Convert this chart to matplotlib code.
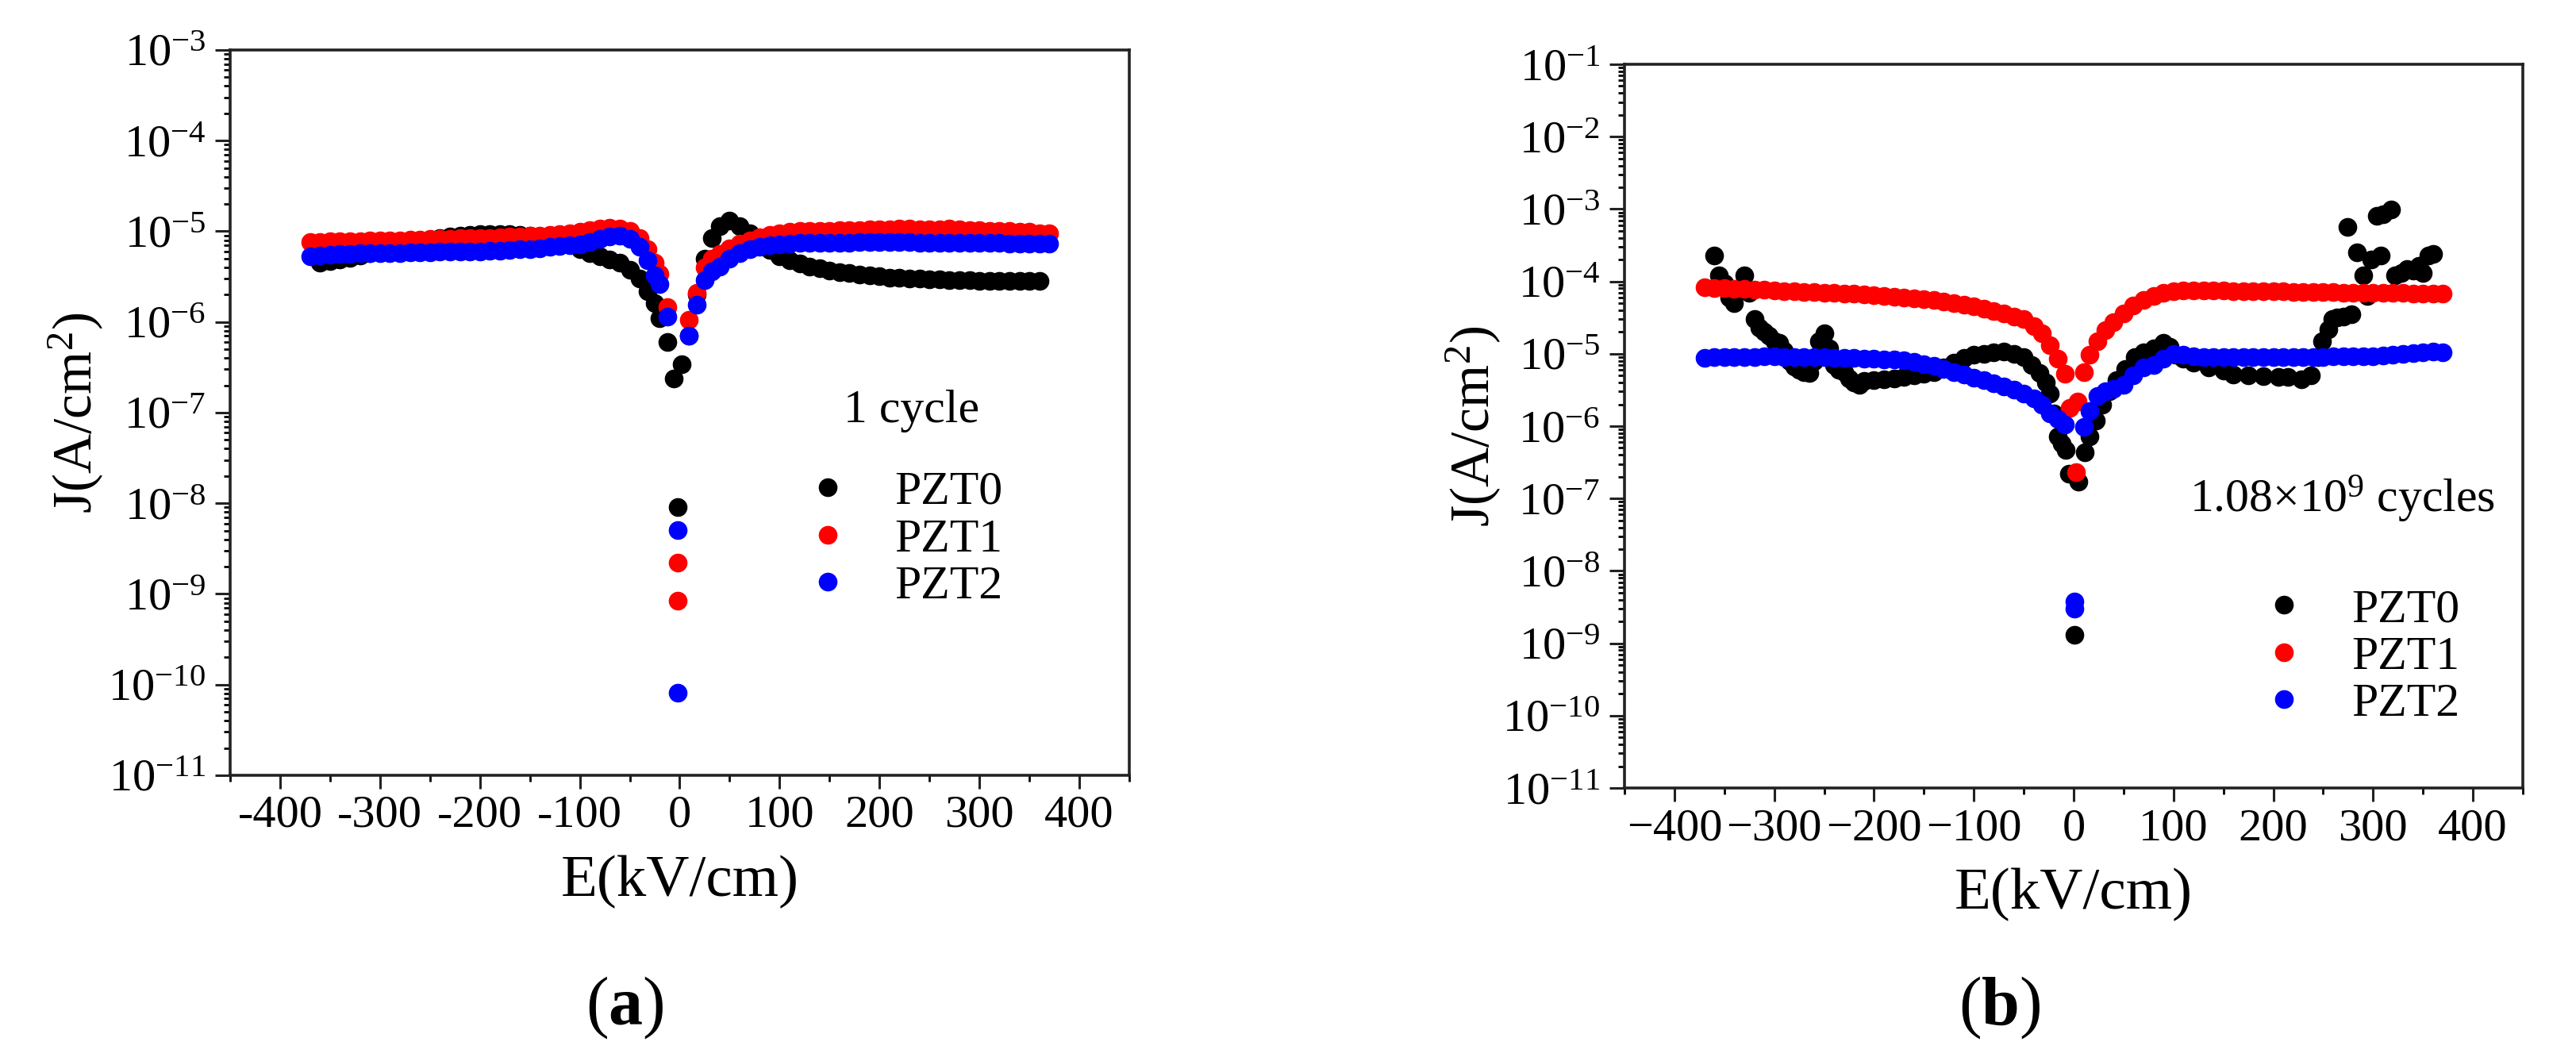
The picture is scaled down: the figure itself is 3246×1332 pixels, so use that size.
import numpy as np
import matplotlib
matplotlib.use("Agg")
import matplotlib.pyplot as plt
from matplotlib.ticker import LogLocator, NullFormatter, MultipleLocator

plt.rcParams['font.family'] = 'Liberation Serif'
plt.rcParams['mathtext.fontset'] = 'custom'
plt.rcParams['mathtext.rm'] = 'Liberation Serif'
plt.rcParams['mathtext.it'] = 'Liberation Serif:italic'
plt.rcParams['mathtext.bf'] = 'Liberation Serif:bold'

nan = np.nan

# ---------------- panel (a): 1 cycle ----------------
E_a = [-370, -360, -350, -340, -330, -320, -310, -300, -290, -280,
       -270, -260, -250, -240, -230, -220, -210, -200, -190, -180,
       -170, -160, -150, -140, -130, -120, -110, -100, -90, -80,
       -70, -60, -50, -40, -32, -25, -20, -12, -6, 2,
       9, 17, 25, 32, 40, 50, 60, 70, 80, 90,
       100, 110, 120, 130, 140, 150, 160, 170, 180, 190,
       200, 210, 220, 230, 240, 250, 260, 270, 280, 290,
       300, 310, 320, 330, 340, 350, 360, 370]

pzt0_a = [nan, 4.5e-6, 4.7e-6, 4.9e-6, 5.1e-6, 5.4e-6, 5.7e-6, 6.0e-6, 6.4e-6, 6.8e-6,
          7.2e-6, 7.6e-6, 8.0e-6, 8.4e-6, 8.7e-6, 9.0e-6, 9.2e-6, 9.3e-6, 9.4e-6, 9.4e-6,
          9.3e-6, 9.2e-6, 9.0e-6, 8.7e-6, 8.3e-6, 7.8e-6, 7.1e-6, 6.3e-6, 5.8e-6, 5.3e-6,
          4.9e-6, 4.5e-6, 3.8e-6, 3.0e-6, 2.2e-6, 1.6e-6, 1.1e-6, 6.0e-7, 2.4e-7, 3.4e-7,
          7.0e-7, 2.0e-6, 5.0e-6, 8.5e-6, 1.15e-5, 1.3e-5, 1.15e-5, 9.5e-6, 7.8e-6, 6.2e-6,
          5.3e-6, 4.8e-6, 4.4e-6, 4.1e-6, 3.9e-6, 3.7e-6, 3.55e-6, 3.45e-6, 3.35e-6, 3.25e-6,
          3.2e-6, 3.1e-6, 3.05e-6, 3.0e-6, 3.0e-6, 2.95e-6, 2.95e-6, 2.9e-6, 2.9e-6, 2.9e-6,
          2.85e-6, 2.85e-6, 2.85e-6, 2.85e-6, 2.85e-6, 2.85e-6, 2.85e-6, nan]

pzt1_a = [7.6e-6, 7.6e-6, 7.7e-6, 7.7e-6, 7.8e-6, 7.8e-6, 7.9e-6, 7.9e-6, 8.0e-6, 8.0e-6,
          8.1e-6, 8.1e-6, 8.2e-6, 8.3e-6, 8.3e-6, 8.4e-6, 8.4e-6, 8.5e-6, 8.5e-6, 8.6e-6,
          8.7e-6, 8.8e-6, 8.9e-6, 9.0e-6, 9.2e-6, 9.4e-6, 9.6e-6, 9.9e-6, 1.03e-5, 1.07e-5,
          1.1e-5, 1.08e-5, 1.0e-5, 8.5e-6, 6.3e-6, 4.5e-6, 3.4e-6, 1.45e-6, nan, nan,
          1.05e-6, 2.1e-6, 4.0e-6, 5.0e-6, 5.6e-6, 6.5e-6, 7.3e-6, 8.0e-6, 8.6e-6, 9.2e-6,
          9.6e-6, 9.9e-6, 1.0e-5, 1.0e-5, 1.02e-5, 1.02e-5, 1.03e-5, 1.03e-5, 1.04e-5, 1.05e-5,
          1.06e-5, 1.06e-5, 1.07e-5, 1.07e-5, 1.06e-5, 1.05e-5, 1.06e-5, 1.07e-5, 1.06e-5, 1.04e-5,
          1.03e-5, 1.02e-5, 1.01e-5, 1.0e-5, 9.9e-6, 9.8e-6, 9.6e-6, 9.5e-6]

pzt2_a = [5.3e-6, 5.4e-6, 5.5e-6, 5.6e-6, 5.6e-6, 5.7e-6, 5.7e-6, 5.8e-6, 5.8e-6, 5.8e-6,
          5.9e-6, 5.9e-6, 5.9e-6, 6.0e-6, 6.0e-6, 6.0e-6, 6.0e-6, 6.0e-6, 6.1e-6, 6.1e-6,
          6.2e-6, 6.3e-6, 6.4e-6, 6.5e-6, 6.7e-6, 6.9e-6, 7.0e-6, 7.2e-6, 7.6e-6, 8.2e-6,
          8.8e-6, 9.0e-6, 8.3e-6, 6.8e-6, 4.8e-6, 3.3e-6, 2.6e-6, 1.15e-6, nan, nan,
          7.0e-7, 1.55e-6, 2.9e-6, 3.6e-6, 4.1e-6, 5.0e-6, 5.8e-6, 6.3e-6, 6.7e-6, 7.0e-6,
          7.2e-6, 7.3e-6, 7.4e-6, 7.4e-6, 7.5e-6, 7.5e-6, 7.5e-6, 7.5e-6, 7.6e-6, 7.6e-6,
          7.6e-6, 7.6e-6, 7.6e-6, 7.6e-6, 7.5e-6, 7.5e-6, 7.5e-6, 7.5e-6, 7.5e-6, 7.4e-6,
          7.4e-6, 7.4e-6, 7.4e-6, 7.3e-6, 7.3e-6, 7.3e-6, 7.3e-6, 7.3e-6]

# isolated points near E = 0
out0_a_E, out0_a_J = [-2], [9.1e-9]
out1_a_E, out1_a_J = [-2, -2], [2.2e-9, 8.5e-10]
out2_a_E, out2_a_J = [-2, -2], [5.1e-9, 8.1e-11]

# ---------------- panel (b): 1.08e9 cycles ----------------
E_b = [-370, -360, -350, -340, -330, -320, -310, -300, -290, -280,
       -270, -260, -250, -240, -230, -220, -210, -200, -190, -180,
       -170, -160, -150, -140, -130, -120, -110, -100, -90, -80,
       -70, -60, -50, -40, -32, -24, -16, -9, -4, 4,
       10, 16, 24, 32, 40, 50, 60, 70, 80, 90,
       100, 110, 120, 130, 140, 150, 160, 170, 180, 190,
       200, 210, 220, 230, 240, 250, 260, 270, 280, 290,
       300, 310, 320, 330, 340, 350, 360, 370]

pzt1_b = [8.2e-5, 8.1e-5, 8.0e-5, 7.9e-5, 7.8e-5, 7.7e-5, 7.6e-5, 7.5e-5, 7.4e-5, 7.3e-5,
          7.2e-5, 7.1e-5, 7.0e-5, 6.9e-5, 6.8e-5, 6.7e-5, 6.55e-5, 6.4e-5, 6.3e-5, 6.15e-5,
          6.0e-5, 5.85e-5, 5.7e-5, 5.55e-5, 5.3e-5, 5.0e-5, 4.75e-5, 4.5e-5, 4.2e-5, 3.9e-5,
          3.6e-5, 3.3e-5, 3.0e-5, 2.4e-5, 1.9e-5, 1.3e-5, 8.5e-6, 5.3e-6, 1.8e-6, 2.2e-6,
          5.6e-6, 9.8e-6, 1.5e-5, 2.1e-5, 2.7e-5, 3.6e-5, 4.6e-5, 5.6e-5, 6.3e-5, 6.9e-5,
          7.3e-5, 7.5e-5, 7.5e-5, 7.5e-5, 7.5e-5, 7.5e-5, 7.4e-5, 7.4e-5, 7.4e-5, 7.3e-5,
          7.3e-5, 7.3e-5, 7.2e-5, 7.2e-5, 7.2e-5, 7.1e-5, 7.1e-5, 7.0e-5, 7.0e-5, 7.0e-5,
          6.9e-5, 6.9e-5, 6.9e-5, 6.9e-5, 6.8e-5, 6.8e-5, 6.8e-5, 6.8e-5]

pzt2_b = [8.8e-6, 8.9e-6, 9.0e-6, 9.0e-6, 9.1e-6, 9.1e-6, 9.2e-6, 9.2e-6, 9.1e-6, 9.0e-6,
          9.0e-6, 8.9e-6, 8.9e-6, 8.8e-6, 8.8e-6, 8.7e-6, 8.6e-6, 8.5e-6, 8.4e-6, 8.3e-6,
          8.1e-6, 7.7e-6, 7.2e-6, 6.8e-6, 6.2e-6, 5.6e-6, 5.1e-6, 4.7e-6, 4.3e-6, 3.9e-6,
          3.5e-6, 3.2e-6, 2.8e-6, 2.4e-6, 2.0e-6, 1.5e-6, 1.25e-6, 1.05e-6, nan, nan,
          9.8e-7, 1.6e-6, 2.6e-6, 3.0e-6, 3.3e-6, 3.7e-6, 5.0e-6, 6.4e-6, 7.0e-6, 8.5e-6,
          1.0e-5, 9.6e-6, 9.2e-6, 9.0e-6, 9.0e-6, 9.0e-6, 9.0e-6, 9.0e-6, 9.0e-6, 9.0e-6,
          9.0e-6, 9.0e-6, 9.1e-6, 9.1e-6, 9.1e-6, 9.1e-6, 9.2e-6, 9.2e-6, 9.2e-6, 9.3e-6,
          9.3e-6, 9.5e-6, 9.7e-6, 9.9e-6, 1.02e-5, 1.05e-5, 1.07e-5, 1.06e-5]

E0_b = [-360, -355, -350, -345, -340, -335, -330, -325, -320, -315,
        -310, -305, -300, -295, -290, -285, -280, -275, -270, -265,
        -260, -255, -250, -245, -240, -235, -230, -225, -220, -215,
        -210, -200, -190, -180, -170, -160, -150, -140, -130, -120,
        -110, -100, -90, -80, -70, -60, -50, -42, -34, -28,
        -24, -20, -16, -12, -8, -5, 5, 11, 16, 22,
        29, 36, 43, 52, 61, 70, 80, 90, 96, 102,
        110, 120, 135, 150, 160, 175, 190, 205, 215, 228,
        238, 245, 249, 255, 259, 264, 270, 274, 278, 284,
        290, 294, 298, 304, 308, 310, 318, 322, 328, 334,
        340, 346, 350, 355, 360]
pzt0_b = [2.3e-4, 1.2e-4, 9.5e-5, 6.0e-5, 5.0e-5, 8.0e-5, 1.2e-4, 7.0e-5, 3.0e-5, 2.3e-5,
          2.0e-5, 1.8e-5, 1.5e-5, 1.4e-5, 1.1e-5, 8.0e-6, 6.6e-6, 6.0e-6, 5.6e-6, 5.4e-6,
          8.0e-6, 1.5e-5, 1.9e-5, 1.2e-5, 7.0e-6, 6.0e-6, 5.5e-6, 4.5e-6, 4.0e-6, 3.7e-6,
          4.2e-6, 4.3e-6, 4.4e-6, 4.6e-6, 4.8e-6, 5.0e-6, 5.3e-6, 5.6e-6, 6.5e-6, 7.5e-6,
          8.8e-6, 9.6e-6, 1.0e-5, 1.05e-5, 1.07e-5, 1.0e-5, 8.9e-6, 7.0e-6, 5.4e-6, 4.0e-6,
          2.8e-6, 1.5e-6, 7.2e-7, 5.8e-7, 4.7e-7, 2.2e-7, 1.7e-7, 4.4e-7, 7.2e-7, 1.2e-6,
          2.0e-6, 3.0e-6, 4.3e-6, 6.2e-6, 8.9e-6, 1.05e-5, 1.2e-5, 1.4e-5, 1.25e-5, 9.8e-6,
          8.5e-6, 7.5e-6, 6.4e-6, 5.8e-6, 5.1e-6, 5.0e-6, 4.9e-6, 4.8e-6, 4.8e-6, 4.4e-6,
          5.0e-6, 9.0e-6, 1.5e-5, 2.2e-5, 3.0e-5, 3.2e-5, 3.3e-5, 5.6e-4, 3.5e-5, 2.5e-4,
          1.2e-4, 6.3e-5, 2.0e-4, 8.0e-4, 2.3e-4, 8.5e-4, 9.8e-4, 1.2e-4, 1.3e-4, 1.5e-4,
          1.4e-4, 1.65e-4, 1.3e-4, 2.3e-4, 2.4e-4]

out0_b_E, out0_b_J = [1], [1.3e-9]
out1_b_E, out1_b_J = [2], [2.3e-7]
out2_b_E, out2_b_J = [1, 1], [3.8e-9, 3.0e-9]

xticks = [-400, -300, -200, -100, 0, 100, 200, 300, 400]
xlabels_a = ['-400', '-300', '-200', '-100', '0', '100', '200', '300', '400']
xlabels_b = ['\u2212400', '\u2212300', '\u2212200', '\u2212100', '0', '100', '200', '300', '400']

colors = ['black', 'red', 'blue']
names = ['PZT0', 'PZT1', 'PZT2']

fig = plt.figure(figsize=(32.46, 13.32), dpi=100)
ax_a = fig.add_axes([0.08934, 0.26652, 0.34904, 0.68619])
ax_b = fig.add_axes([0.63062, 0.25450, 0.34874, 0.68468])

ms = 17
tick_fs = 42


def style_axis(ax, ymin, ymax, xlabels):
    ax.set_yscale('log')
    ax.set_xlim(-450, 450)
    ax.set_ylim(ymin, ymax)
    ax.set_xticks(xticks, xlabels)
    ax.xaxis.set_minor_locator(MultipleLocator(50))
    ax.yaxis.set_major_locator(LogLocator(base=10, numticks=20))
    ax.yaxis.set_minor_locator(LogLocator(base=10, subs=np.arange(2, 10), numticks=20))
    ax.yaxis.set_minor_formatter(NullFormatter())
    ax.tick_params(axis='both', which='major', direction='out', labelsize=tick_fs,
                   width=2.2, color='#222222')
    ax.tick_params(axis='y', which='major', length=14, pad=8)
    ax.tick_params(axis='x', which='major', length=12, pad=6)
    ax.tick_params(axis='y', which='minor', direction='out', length=6, width=2)
    ax.tick_params(axis='x', which='minor', direction='out', length=6, width=2)
    ax.tick_params(top=False, right=False, which='both')
    for s in ax.spines.values():
        s.set_linewidth(2.6)
        s.set_color('#222222')
    ax.set_xlabel('E(kV/cm)', fontsize=54)
    ax.set_ylabel(r'J(A/cm$\mathregular{^2}$)', fontsize=50)
    ax.xaxis.set_label_coords(0.5, -0.11)


# panel (a)
for J, c, n in zip([pzt0_a, pzt1_a, pzt2_a], colors, names):
    ax_a.plot(E_a, J, 'o', color=c, ms=ms, mec='none', label=n)
ax_a.plot(out0_a_E, out0_a_J, 'o', color='black', ms=ms, mec='none')
ax_a.plot(out1_a_E, out1_a_J, 'o', color='red', ms=ms, mec='none')
ax_a.plot(out2_a_E, out2_a_J, 'o', color='blue', ms=ms, mec='none')
style_axis(ax_a, 1e-11, 1e-3, xlabels_a)
ax_a.yaxis.set_label_coords(-0.1386, 0.5)
ax_a.text(0.682, 0.502, '1 cycle', transform=ax_a.transAxes, fontsize=43,
          ha='left', va='center')
ax_a.legend(loc='upper left', bbox_to_anchor=(0.638, 0.42), frameon=False,
            fontsize=43, handlelength=1.0, handletextpad=0.92, labelspacing=0.08,
            borderpad=0, borderaxespad=0)

# panel (b)
ax_b.plot(E0_b, pzt0_b, 'o', color='black', ms=ms, mec='none', label='PZT0')
ax_b.plot(E_b, pzt1_b, 'o', color='red', ms=ms, mec='none', label='PZT1')
ax_b.plot(E_b, pzt2_b, 'o', color='blue', ms=ms, mec='none', label='PZT2')
ax_b.plot(out0_b_E, out0_b_J, 'o', color='black', ms=ms, mec='none')
ax_b.plot(out1_b_E, out1_b_J, 'o', color='red', ms=ms, mec='none')
ax_b.plot(out2_b_E, out2_b_J, 'o', color='blue', ms=ms, mec='none')
style_axis(ax_b, 1e-11, 1e-1, xlabels_b)
ax_b.yaxis.set_label_coords(-0.135, 0.5)
ax_b.text(0.629, 0.40, r'1.08$\times$10$\mathregular{^9}$ cycles', transform=ax_b.transAxes,
          fontsize=43, ha='left', va='center')
ax_b.legend(loc='upper left', bbox_to_anchor=(0.708, 0.276), frameon=False,
            fontsize=43, handlelength=1.0, handletextpad=0.92, labelspacing=0.08,
            borderpad=0, borderaxespad=0)

fig.text(787 / 3246, 1 - 1270 / 1332, r'($\mathbf{a}$)', fontsize=62, ha='center', va='center')
fig.text(2520 / 3246, 1 - 1270 / 1332, r'($\mathbf{b}$)', fontsize=62, ha='center', va='center')

fig.savefig('out.png', dpi=100)
